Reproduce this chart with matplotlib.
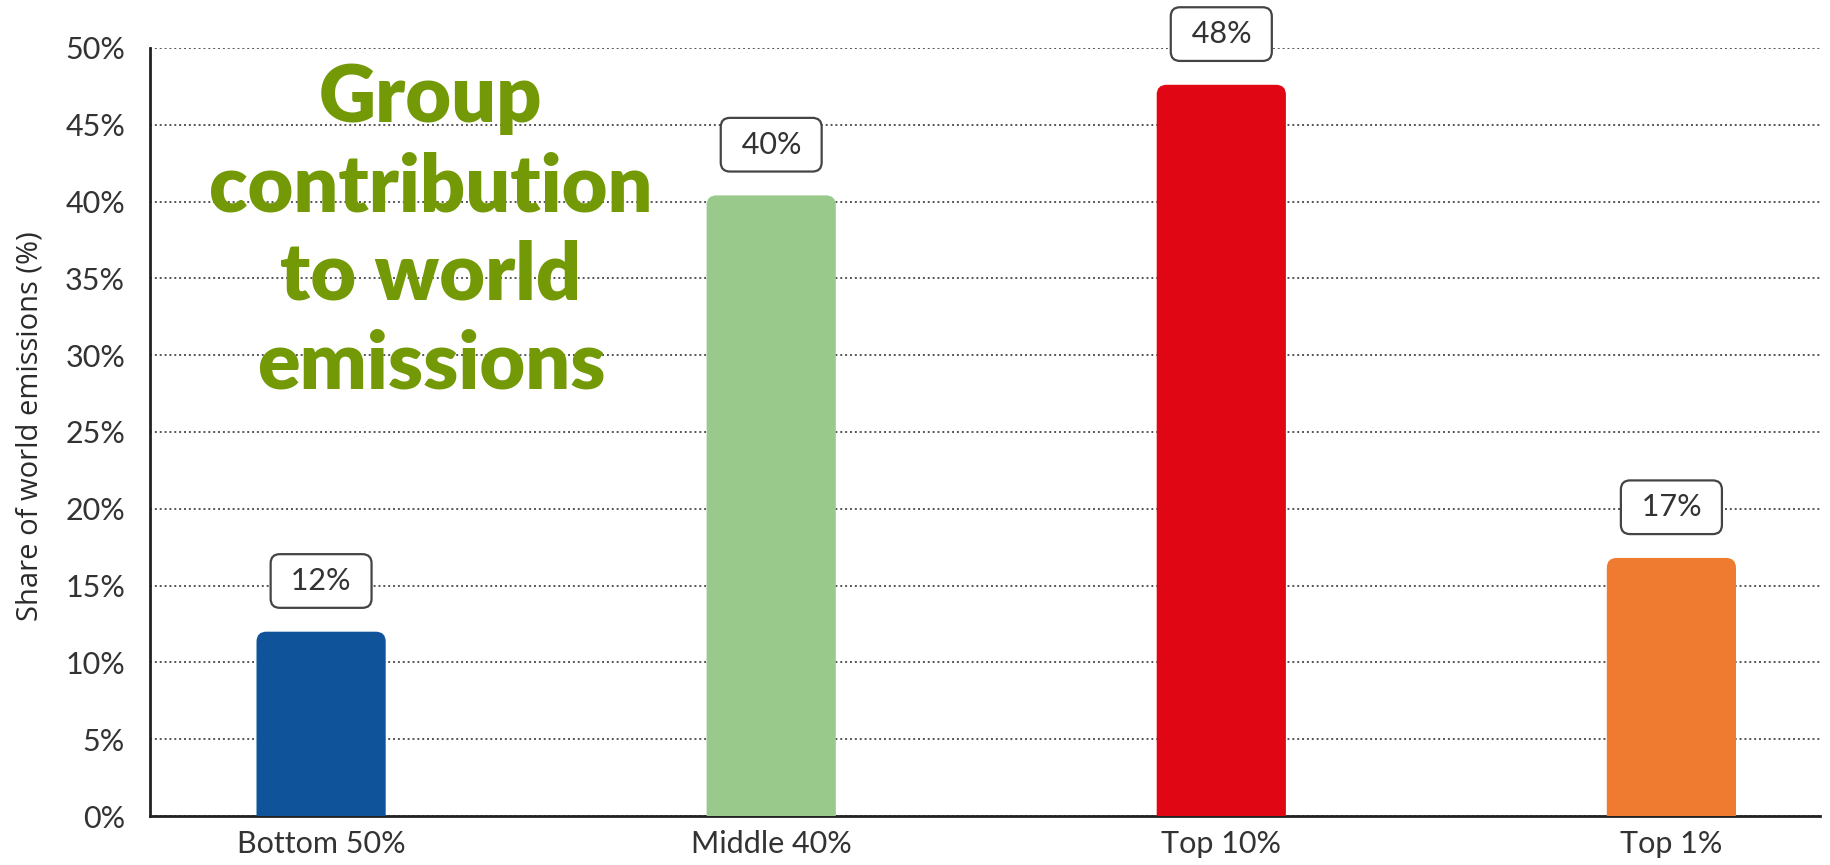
import matplotlib.pyplot as plt
from matplotlib.patches import FancyBboxPatch
from matplotlib.ticker import FuncFormatter

groups = ["Bottom 50%", "Middle 40%", "Top 10%", "Top 1%"]
shares = [12.0, 40.4, 47.6, 16.8]
labels = ["12%", "40%", "48%", "17%"]
colors = ["#0f539b", "#99c98b", "#e00613", "#ee7b30"]

plt.rcParams['font.family'] = ['Lato', 'DejaVu Sans']

fig = plt.figure(figsize=(18.3, 8.65), dpi=100)
ax = fig.add_axes([0.082, 0.0566, 0.9125, 0.888])

x = list(range(len(groups)))
bars = ax.bar(x, shares, width=0.287, color=colors, zorder=3)

# rounded tops: swap each bar for a rounded patch of the same extent
for b, c in zip(bars, colors):
    b.set_visible(False)
    p = FancyBboxPatch((b.get_x(), -2), b.get_width(), b.get_height() + 2,
                       boxstyle="round,pad=0,rounding_size=0.022",
                       mutation_aspect=29.3, fc=c, ec="none", zorder=3)
    ax.add_patch(p)

for xi, v, lab in zip(x, shares, labels):
    ax.text(xi, v + 3.3, " " + lab + " ", ha="center", va="center",
            fontsize=22, color="#333333", zorder=5, clip_on=False,
            bbox=dict(boxstyle="round,pad=0.42,rounding_size=0.3",
                      fc="white", ec="#444444", lw=1.6))

ax.set_xlim(-0.38, 3.33)
ax.set_ylim(0, 50)
ax.set_yticks(range(0, 51, 5))
ax.yaxis.set_major_formatter(FuncFormatter(lambda v, p: f"{int(v)}%"))
ax.set_xticks(x)
ax.set_xticklabels(groups)
ax.tick_params(axis="both", length=0, labelsize=22, colors="#333333")
ax.tick_params(axis="y", pad=18)
ax.tick_params(axis="x", pad=10)

ax.grid(axis="y", linestyle=(0, (1, 1.5)), color="#555555", lw=1.4, zorder=0)
for s in ["top", "right"]:
    ax.spines[s].set_visible(False)
for s in ["left", "bottom"]:
    ax.spines[s].set_linewidth(2)
    ax.spines[s].set_color("#222222")

ax.set_ylabel("Share of world emissions (%)", fontsize=21, color="#2a2a2a",
              family=["Open Sans", "DejaVu Sans"])
ax.yaxis.set_label_coords(-0.063, 0.508)

fig.text(0.2355, 0.732, "Group\ncontribution\nto world\nemissions",
         ha="center", va="center", fontsize=57, fontweight="heavy",
         color="#739a06", linespacing=1.26, zorder=6)

fig.savefig("out.png", dpi=100)
